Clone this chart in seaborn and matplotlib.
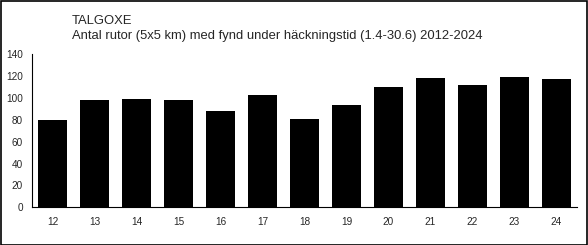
import matplotlib
matplotlib.use("Agg")
import matplotlib.pyplot as plt
import seaborn as sns
import pandas as pd
from matplotlib.patches import Rectangle

years = ["12", "13", "14", "15", "16", "17", "18", "19", "20", "21", "22", "23", "24"]
counts = [80, 98, 99, 98, 88, 103, 81, 93, 110, 118, 112, 119, 117]
title_lines = ["TALGOXE", "Antal rutor (5x5 km) med fynd under häckningstid (1.4-30.6) 2012-2024"]
yticks = [0, 20, 40, 60, 80, 100, 120, 140]

sns.set_style("white")
plt.rcParams['font.family'] = ['Liberation Sans', 'DejaVu Sans']

df = pd.DataFrame({"year": years, "count": counts})

fig = plt.figure(figsize=(5.88, 2.45), dpi=100)
ax = fig.add_axes([32/588, 1-207.3/245, (577-32)/588, (207.3-54)/245])
sns.barplot(data=df, x="year", y="count", color="black", width=0.69, ax=ax,
            saturation=1, edgecolor="black", linewidth=0)

ax.set_xlim(-0.5, len(years) - 0.5)
ax.set_ylim(0, 140)
ax.set_yticks(yticks)
ax.set_yticklabels([str(v) for v in yticks], fontsize=7.2)
ax.set_xlabel("")
ax.set_ylabel("")
ax.tick_params(axis="x", which="major", length=0, labelsize=7.2, pad=6.8)
ax.set_xticks([i + 0.5 for i in range(-1, len(years))], minor=True)
ax.tick_params(axis="x", which="minor", length=3, width=0.8, direction="out", color="black")
ax.tick_params(axis="y", length=2.5, width=0.8, direction="out", color="black", pad=4)
for s in ["top", "right"]:
    ax.spines[s].set_visible(False)
for s in ["left", "bottom"]:
    ax.spines[s].set_color("black")
    ax.spines[s].set_linewidth(0.8)

fig.text(71.5/588, 1-23.5/245, title_lines[0], fontsize=9.4, va="baseline", ha="left")
fig.text(71.5/588, 1-38.8/245, title_lines[1], fontsize=9.4, va="baseline", ha="left")

fig.patches.append(Rectangle((0.001, 0.002), 0.997, 0.995, transform=fig.transFigure,
                             fill=False, edgecolor="black", linewidth=1.2))
fig.savefig("out.png", dpi=100)
